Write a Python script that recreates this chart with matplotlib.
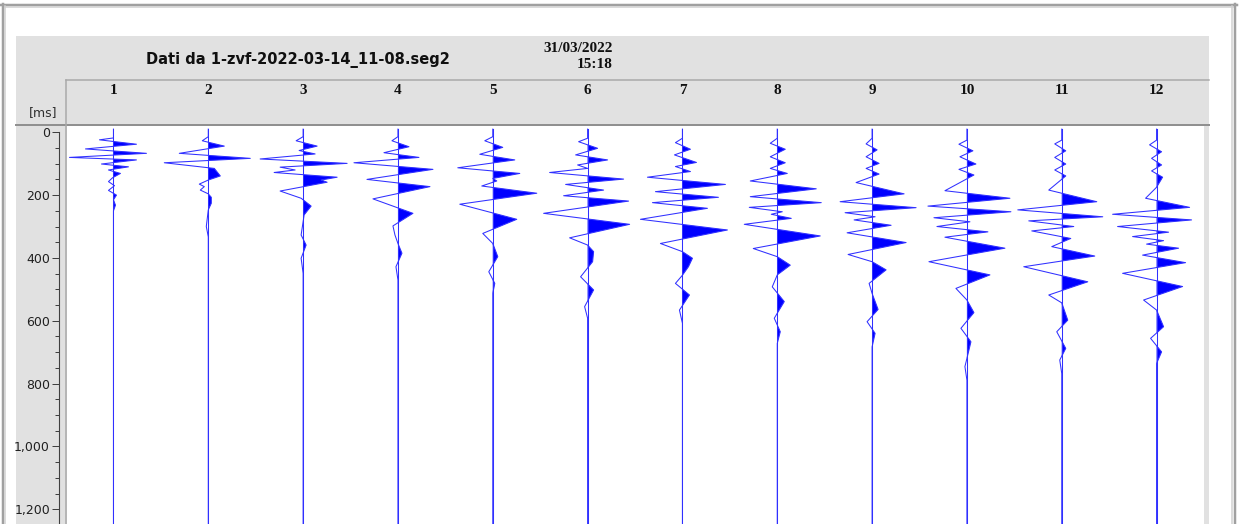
import numpy as np
import matplotlib
matplotlib.use("Agg")
from matplotlib import pyplot as plt
from matplotlib.patches import Rectangle
from matplotlib.ticker import MultipleLocator, FuncFormatter

# picks: time [ms] and swing (screen px, + = right)
t1 = [-10, 18, 24, 38, 53, 67, 80, 88, 101, 110, 120, 131, 145, 157, 170, 185, 200, 215, 232, 250]
a1 = [0, 0, -14, 23, -28, 33, -44, 23, -12, 15, -5, 7, -1, -5, 1, -5, 3, 0, 2, 0]

t2 = [-10, 14, 27, 44, 67, 83, 97, 115, 139, 152, 165, 173, 184, 196, 207, 226, 247, 300, 333]
a2 = [0, 0, -6, 16, -29, 42, -44, 6, 12, 0, -9, -4, -8, 0, 3, 3, 0, -2, 0]

t3 = [-10, 14, 27, 44, 58, 69, 85, 99, 111, 120, 128, 143, 152, 159, 187, 210, 235, 263, 327, 359, 401, 449]
a3 = [0, 0, -7, 14, -4, 12, -43, 44, -23, -8, -29, 34, 18, 24, -23, -2, 8, 1, -2, 3, -2, 0]

t4 = [-10, 14, 27, 46, 65, 80, 97, 118, 150, 173, 212, 258, 298, 327, 354, 385, 428, 470]
a4 = [0, 0, -6, 11, -14, 21, -44, 35, -31, 32, -25, 15, -5, -3, 0, 4, -2, 0]

t5 = [-10, 14, 27, 48, 70, 88, 113, 131, 147, 155, 171, 194, 229, 277, 322, 354, 396, 444, 481, 513]
a5 = [0, 0, -8, 10, -13, 22, -35, 27, 0, 4, -11, 44, -33, 24, -10, 0, 5, -4, 2, 0]

t6 = [-10, 19, 30, 51, 72, 88, 104, 115, 128, 149, 166, 184, 202, 219, 258, 293, 336, 359, 380, 412, 460, 502, 555, 592]
a6 = [0, 0, -9, 10, -12, 20, -10, 0, -38, 36, -22, 16, -24, 41, -44, 42, -18, 0, 6, 5, -7, 6, -3, 0]

t7 = [-10, 19, 33, 54, 72, 96, 109, 125, 143, 166, 189, 207, 224, 242, 277, 311, 354, 380, 401, 428, 455, 481, 518, 566, 608]
a7 = [0, 0, -7, 8, -8, 14, -7, 8, -35, 43, -27, 36, -30, 25, -42, 45, -22, 0, 10, 6, 0, -7, 7, -3, 0]

t8 = [-10, 19, 35, 54, 78, 97, 115, 131, 155, 180, 205, 224, 239, 253, 261, 274, 293, 330, 370, 396, 423, 454, 492, 539, 592, 635, 672]
a8 = [0, 0, -7, 8, -7, 8, -7, 10, -27, 39, -27, 44, -28, 5, -6, 14, -33, 43, -24, 0, 13, 0, -5, 7, -3, 3, 0]

t9 = [-10, 19, 37, 56, 78, 99, 115, 133, 160, 196, 221, 240, 256, 269, 279, 296, 320, 351, 389, 412, 438, 481, 513, 564, 603, 640, 683]
a9 = [0, 0, -6, 5, -6, 7, -6, 7, -16, 32, -32, 44, -27, 3, -18, 19, -25, 34, -24, 0, 14, -3, 0, 6, -5, 3, 0]

t10 = [-10, 25, 38, 59, 78, 101, 118, 136, 186, 210, 235, 253, 272, 285, 300, 317, 334, 369, 412, 454, 497, 534, 574, 624, 667, 746, 789]
a10 = [0, 0, -8, 6, -7, 9, -8, 7, -22, 43, -39, 44, -33, 3, -30, 21, -22, 38, -38, 23, -11, 0, 7, -6, 4, -2, 0]

t11 = [-10, 25, 37, 59, 80, 101, 120, 139, 184, 221, 247, 269, 282, 300, 314, 338, 364, 394, 428, 476, 518, 543, 598, 635, 688, 725, 768]
a11 = [0, 0, -7, 4, -7, 4, -7, 4, -13, 35, -44, 41, -33, 12, -30, 9, -10, 33, -38, 26, -13, 0, 6, -5, 4, -2, 0]

t12 = [-10, 25, 40, 62, 83, 104, 123, 143, 175, 210, 239, 261, 279, 300, 318, 332, 345, 356, 369, 391, 415, 449, 491, 534, 566, 619, 656, 699, 736]
a12 = [0, 0, -7, 5, -5, 5, -5, 6, 0, -11, 33, -44, 35, -39, 12, -24, 7, -10, 22, -14, 29, -34, 26, -13, 0, 7, -6, 5, 0]

traces = [(t1, a1), (t2, a2), (t3, a3), (t4, a4), (t5, a5), (t6, a6),
          (t7, a7), (t8, a8), (t9, a9), (t10, a10), (t11, a11), (t12, a12)]
channels = [str(i) for i in range(1, 13)]

title = "Dati da 1-zvf-2022-03-14_11-08.seg2"
date_str = "31/03/2022"
time_str = "15:18"

W, H = 1239, 524
fig = plt.figure(figsize=(W / 100, H / 100), dpi=100)
fig.patch.set_facecolor("white")

# background frame drawn in pixel coordinates
bg = fig.add_axes([0, 0, 1, 1])
bg.set_xlim(0, W)
bg.set_ylim(H, 0)
bg.axis("off")
px = 0.72  # one pixel in points

bg.add_patch(Rectangle((16, 36), 1209 - 16, H - 36, facecolor="#e1e1e1", edgecolor="none"))
bg.plot([0, 1237], [4.5, 4.5], color="#a0a0a0", lw=2.5 * px)
bg.plot([3, 1233], [6.5, 6.5], color="#d0d0d0", lw=1.5 * px)
bg.plot([2.5, 2.5], [4, H], color="#a0a0a0", lw=2.5 * px)
bg.plot([5, 5], [6, H], color="#d0d0d0", lw=1.5 * px)
bg.plot([1235, 1235], [4, H], color="#a0a0a0", lw=2.5 * px)
bg.plot([1232, 1232], [6, H], color="#d0d0d0", lw=1.5 * px)
bg.plot([66, 1209], [79.5, 79.5], color="#a8a8a8", lw=1.5 * px)
bg.plot([16, 1209], [125, 125], color="#909090", lw=2 * px)
bg.plot([65.5, 65.5], [79.5, H], color="#a8a8a8", lw=1.5 * px)

bg.text(298, 60, title, ha="center", va="center", fontsize=10.5,
        fontweight="bold", family="DejaVu Sans", color="#101010")
bg.text(613, 48, date_str, ha="right", va="center", fontsize=11,
        fontweight="bold", family="Liberation Serif", color="#101010")
bg.text(613, 64, time_str, ha="right", va="center", fontsize=11,
        fontweight="bold", family="Liberation Serif", color="#101010")
bg.text(57, 113, "[ms]", ha="right", va="center", fontsize=9,
        family="DejaVu Sans", color="#303030")

# trace panel
left, right, top = 67, 1204, 126
ax = fig.add_axes([left / W, 0, (right - left) / W, (H - top) / H])
ax.set_facecolor("white")
ax.set_xlim(0.51, 12.5)
ax.set_ylim(1247, -20)

gain = 1 / 94.85
for k, (t, a) in enumerate(traces, start=1):
    t = np.array(t + [1260], dtype=float)
    x = k + np.array(a + [0], dtype=float) * gain
    ax.fill_betweenx(t, k, x, where=x > k, interpolate=True,
                     color="#0000ff", lw=0)
    ax.plot(x, t, color="#3030ff", lw=0.75)
    ax.plot([k, k], [-10, 1260], color="#3030ff", lw=0.75)

# channel numbers in the header
for k, lab in enumerate(channels, start=1):
    xp = ax.transData.transform((k, 0))[0]
    bg.text(xp, 90.5, lab, ha="center", va="center", fontsize=11,
            fontweight="bold", family="Liberation Serif", color="#101010")

for s in ["top", "right", "bottom"]:
    ax.spines[s].set_visible(False)
ax.spines["left"].set_position(("outward", 8 * px))
ax.spines["left"].set_bounds(0, 1247)
ax.spines["left"].set_color("#404040")
ax.set_xticks([])
ax.yaxis.set_major_locator(MultipleLocator(200))
ax.yaxis.set_minor_locator(MultipleLocator(50))
ax.yaxis.set_major_formatter(FuncFormatter(lambda v, p: f"{int(v):,}"))
ax.tick_params(axis="y", which="major", length=7 * px, width=1 * px,
               color="#404040", pad=2 * px, labelsize=9, labelcolor="#202020")
ax.tick_params(axis="y", which="minor", length=4 * px, width=1 * px, color="#404040")
for lbl in ax.get_yticklabels():
    lbl.set_family("DejaVu Sans")

fig.savefig("out.png", dpi=100)
